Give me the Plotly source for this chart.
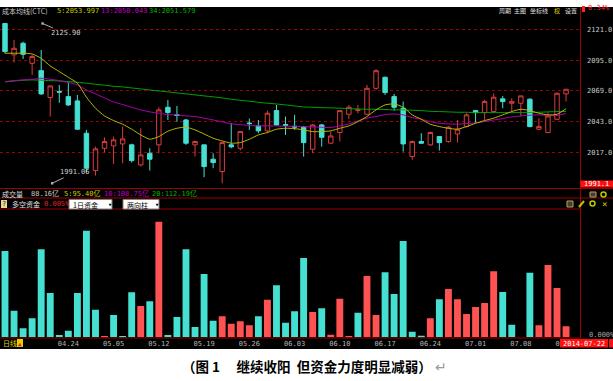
import plotly.graph_objects as go

# ---------------- data ----------------
dates = ["04.15", "04.16", "04.17", "04.18", "04.21", "04.22", "04.23", "04.24", "04.25", "04.28", "04.29", "04.30",
         "05.05", "05.06", "05.07", "05.08", "05.09", "05.12", "05.13", "05.14", "05.15", "05.16",
         "05.19", "05.20", "05.21", "05.22", "05.23", "05.26", "05.27", "05.28", "05.29", "05.30",
         "06.03", "06.04", "06.05", "06.06", "06.09", "06.10", "06.11", "06.12", "06.13", "06.16",
         "06.17", "06.18", "06.19", "06.20", "06.23", "06.24", "06.25", "06.26", "06.27", "06.30",
         "07.01", "07.02", "07.03", "07.04", "07.07", "07.08", "07.09", "07.10", "07.11", "07.14", "07.15"]

opens = [2125.9, 2099.4, 2109.2, 2092.3, 2086.1, 2063.4, 2068.5, 2064.2, 2060.6, 2033.3, 2001.8, 2020.6,
         2022.6, 2024.3, 2023.5, 2006.6, 2016.4, 2023.5, 2055.2, 2049.0, 2044.5, 2023.5, 2023.5, 2011.4,
         2001.0, 2023.5, 2020.6, 2041.9, 2039.5, 2035.3, 2052.4, 2040.6, 2039.2, 2038.4, 2019.8, 2040.3,
         2024.9, 2033.9, 2049.3, 2052.5, 2049.3, 2071.2, 2080.5, 2064.2, 2054.4, 2013.6, 2026.3, 2023.5,
         2030.5, 2026.3, 2032.7, 2038.9, 2052.4, 2050.7, 2051.6, 2062.3, 2058.6, 2058.6, 2062.0, 2036.7,
         2033.9, 2045.1, 2066.5]
highs = [2125.9, 2112.0, 2110.5, 2099.4, 2103.6, 2073.5, 2074.0, 2076.0, 2065.6, 2036.1, 2022.0, 2029.9,
         2030.5, 2038.9, 2024.5, 2037.5, 2020.6, 2055.2, 2061.4, 2056.3, 2045.4, 2027.1, 2023.5, 2016.4,
         2025.4, 2041.7, 2035.3, 2045.7, 2044.5, 2052.4, 2057.2, 2047.4, 2048.8, 2039.5, 2041.2, 2041.2,
         2034.7, 2052.4, 2057.2, 2057.2, 2074.1, 2087.3, 2081.1, 2066.5, 2060.0, 2027.1, 2033.3, 2034.7,
         2030.5, 2039.5, 2044.5, 2050.2, 2053.0, 2061.4, 2067.0, 2064.8, 2062.8, 2064.8, 2062.8, 2045.9,
         2050.7, 2067.6, 2070.4]
lows = [2100.5, 2092.9, 2096.0, 2082.5, 2065.6, 2047.4, 2059.0, 2056.3, 2036.1, 2000.1, 1997.6, 2017.0,
        2007.4, 2008.0, 2008.6, 2005.2, 2001.8, 2016.4, 2044.5, 2043.1, 2023.5, 2013.6, 1996.2, 2003.8,
        1991.06, 2020.6, 2018.7, 2036.1, 2033.3, 2033.3, 2039.5, 2031.9, 2036.1, 2013.6, 2016.4, 2022.0,
        2024.3, 2026.3, 2045.4, 2050.0, 2048.8, 2069.8, 2065.6, 2052.4, 2017.8, 2010.8, 2024.3, 2022.6,
        2018.7, 2025.4, 2025.4, 2038.4, 2041.7, 2044.5, 2050.7, 2054.4, 2051.6, 2047.4, 2038.4, 2036.1,
        2033.3, 2044.5, 2060.0]
closes = [2102.2, 2105.0, 2099.9, 2098.0, 2066.5, 2073.2, 2068.0, 2057.2, 2036.7, 2003.8, 2020.1, 2026.3,
          2027.7, 2028.5, 2010.2, 2015.0, 2011.4, 2053.0, 2050.7, 2048.3, 2024.9, 2026.3, 2005.2, 2008.6,
          2025.4, 2021.8, 2034.7, 2041.4, 2035.3, 2050.2, 2040.3, 2040.0, 2038.5, 2025.4, 2040.3, 2029.9,
          2031.0, 2052.4, 2055.2, 2053.0, 2071.2, 2086.1, 2067.6, 2055.2, 2024.3, 2026.3, 2024.9, 2033.9,
          2025.4, 2038.4, 2036.7, 2048.8, 2050.7, 2060.0, 2063.7, 2060.0, 2060.0, 2064.8, 2038.9, 2038.9,
          2047.9, 2067.0, 2070.4]

ma5 = [2100.8, 2100.8, 2100.8, 2100.2, 2096.5, 2090.1, 2085.3, 2080.5, 2075.5, 2063.7, 2054.4, 2047.9,
       2044.0, 2040.9, 2036.7, 2031.9, 2028.2, 2030.5, 2035.0, 2037.5, 2038.4, 2036.1, 2032.7, 2029.1,
       2026.8, 2024.9, 2025.4, 2028.2, 2031.9, 2033.9, 2036.7, 2037.5, 2037.2, 2036.1, 2034.7, 2034.7,
       2035.3, 2037.5, 2039.5, 2043.1, 2047.4, 2053.0, 2057.2, 2058.0, 2055.2, 2048.8, 2045.1, 2040.9,
       2038.9, 2037.5, 2036.7, 2038.9, 2041.7, 2044.0, 2046.0, 2048.8, 2051.6, 2053.5, 2052.4, 2050.2,
       2048.8, 2049.3, 2054.0]
ma13 = [2076.9, 2077.7, 2078.3, 2078.8, 2079.7, 2078.8, 2077.7, 2076.0, 2074.1, 2069.8, 2066.5, 2063.1,
        2059.7, 2057.5, 2055.2, 2053.0, 2051.3, 2050.2, 2049.0, 2048.8, 2047.9, 2047.4, 2046.0, 2044.5,
        2042.9, 2041.2, 2040.6, 2039.8, 2039.5, 2039.5, 2039.5, 2039.2, 2039.2, 2038.9, 2038.6, 2038.4,
        2038.1, 2039.5, 2041.2, 2043.7, 2046.0, 2047.4, 2049.0, 2049.6, 2048.8, 2046.5, 2045.1, 2043.1,
        2041.7, 2041.2, 2040.9, 2041.4, 2042.0, 2043.1, 2044.5, 2045.7, 2047.1, 2047.9, 2048.5, 2048.8,
        2048.2, 2048.2, 2050.0]
ma34 = [2076.6, 2077.4, 2078.0, 2078.3, 2078.0, 2077.7, 2077.4, 2076.9, 2076.3, 2075.5, 2074.6, 2073.8,
        2072.9, 2072.4, 2071.5, 2070.7, 2069.8, 2069.0, 2068.2, 2067.3, 2066.5, 2065.6, 2064.8, 2064.0,
        2063.1, 2062.0, 2061.1, 2060.3, 2059.4, 2058.6, 2058.0, 2057.2, 2056.3, 2055.5, 2055.2, 2054.9,
        2054.7, 2054.4, 2054.1, 2053.8, 2053.5, 2053.5, 2053.3, 2053.0, 2053.0, 2052.7, 2052.4, 2051.8,
        2051.6, 2051.3, 2051.0, 2051.0, 2050.7, 2050.7, 2050.7, 2050.7, 2050.7, 2050.7, 2050.7, 2051.0,
        2051.3, 2051.6, 2051.6]

# long/short fund flow (positive = red, negative = cyan), drawn as magnitudes
fund_flow = [-25.9, -8.0, -2.7, -5.7, -26.4, -13.3, -0.7, -2.0, -13.3, -32.0, -8.3, 0.4,
             -6.7, -0.4, -13.5, 9.4, -10.8, 34.7, -0.7, -6.1, -26.4, -3.1, -19.0, -5.0,
             6.3, 4.1, 4.8, 3.6, -6.3, 11.3, -15.6, -4.4, -7.8, -23.8, 7.6, -8.7,
             0.8, 11.6, 0.4, -7.4, 18.4, 6.7, -19.5, -13.0, -28.9, -1.7, -0.5, 5.7,
             -11.4, 14.5, 11.4, 7.0, 9.1, 10.3, 19.8, -13.6, -3.8, 0.0, -19.4, 3.6,
             21.7, 14.8, 3.3]

tick_labels = ["04.24", "05.05", "05.12", "05.19", "05.26", "06.03", "06.10", "06.17", "06.24", "07.01", "07.08", "07.15"]
price_ticks = [2017.0, 2043.0, 2069.0, 2095.0, 2121.0]

# ---------------- layout helpers ----------------
W, H = 613, 381
def px(x):
    return x / W
def py(y):
    return 1 - y / H

RED_UP = "#dc3c3c"
CYAN = "#46e0d2"
BAR_RED = "#ff5252"
GRID = "#9a0000"
MONO = "DejaVu Sans Mono, Noto Sans CJK SC"
CJK = "Noto Sans CJK SC"
xr = [-0.552, 63.54]

fig = go.Figure()

fig.add_trace(go.Candlestick(
    x=dates, open=opens, high=highs, low=lows, close=closes,
    increasing=dict(line=dict(color=RED_UP, width=1), fillcolor="#000000"),
    decreasing=dict(line=dict(color=CYAN, width=1), fillcolor=CYAN),
    whiskerwidth=0, xaxis="x", yaxis="y", hoverinfo="skip"))

for vals, col in [(ma34, "#00a800"), (ma13, "#b000b0"), (ma5, "#b8b800")]:
    fig.add_trace(go.Scatter(x=dates, y=vals, mode="lines", xaxis="x", yaxis="y",
                             line=dict(color=col, width=1, shape="spline", smoothing=0.6),
                             hoverinfo="skip"))

fig.add_trace(go.Bar(
    x=dates, y=[abs(v) for v in fund_flow],
    marker=dict(color=[BAR_RED if v > 0 else CYAN for v in fund_flow], line=dict(width=0)),
    width=0.76, xaxis="x2", yaxis="y2", hoverinfo="skip"))

fig.update_layout(
    width=W, height=H, margin=dict(l=0, r=0, t=0, b=0), autosize=False,
    paper_bgcolor="white", plot_bgcolor="black", showlegend=False, hovermode=False,
    xaxis=dict(domain=[0, px(580)], range=xr, type="category", showticklabels=False,
               showgrid=False, zeroline=False, showline=False, anchor="y",
               rangeslider=dict(visible=False), fixedrange=True),
    yaxis=dict(domain=[py(188), py(7)], range=[1987.1, 2139.8], side="right", anchor="x",
               tickvals=price_ticks, ticktext=[f"{v:.1f}" for v in price_ticks],
               tickfont=dict(family=MONO, size=7, color="#c8c8c8"), ticklabelstandoff=6,
               showgrid=True, gridcolor=GRID, griddash="dot", gridwidth=1,
               zeroline=False, showline=False, fixedrange=True),
    xaxis2=dict(domain=[0, px(580)], range=xr, type="category", anchor="y2",
                tickvals=tick_labels, ticktext=tick_labels, ticks="",
                tickfont=dict(family=MONO, size=7, color="#b4b4b4"), ticklabelstandoff=1,
                showgrid=False, zeroline=False, showline=False, fixedrange=True),
    yaxis2=dict(domain=[py(337.3), py(210)], range=[0, 38.2], anchor="x2",
                visible=False, fixedrange=True),
)

shapes = []
shapes.append(dict(type="rect", xref="paper", yref="paper", x0=0, x1=1, y0=py(349), y1=py(7),
                   fillcolor="black", line=dict(width=0), layer="below"))
def hline(y, x0, x1, col=GRID):
    shapes.append(dict(type="line", xref="paper", yref="paper", x0=px(x0), x1=px(x1),
                       y0=py(y), y1=py(y), line=dict(color=col, width=1)))
def rect(x0, y0, x1, y1, fill, line="rgba(0,0,0,0)", lw=0):
    shapes.append(dict(type="rect", xref="paper", yref="paper", x0=px(x0), x1=px(x1),
                       y0=py(y1), y1=py(y0), fillcolor=fill, line=dict(color=line, width=lw)))

shapes.append(dict(type="line", xref="paper", yref="paper", x0=px(580.5), x1=px(580.5),
                   y0=py(338), y1=py(7), line=dict(color=GRID, width=1)))
hline(188.5, 0, 613)
hline(198, 0, 613)
hline(209, 0, 580.5)
hline(338, 0, 580.5)

# small widgets
rect(1, 200, 7, 208, "#e8d890")                 # help icon
rect(69, 199.5, 112, 209, "white", "#808080", 1)  # dropdown 1
rect(123, 199.5, 159, 209, "white", "#808080", 1) # dropdown 2
rect(17, 339, 23, 347, "#e0d000")               # triangle icon box
rect(560, 339, 608, 347.5, "#ff1010")            # date box
rect(609, 339, 613, 347.5, "#ff1010")
rect(580.5, 180.5, 613, 187.5, "#ff1010")        # last price box
rect(582, 6, 585, 12, "#ff2020")
# right icons
rect(590, 192, 596, 197, "#404040", "#c0a040", 1)
rect(567, 201, 573, 207, "#404040", "#c0a040", 1)
shapes.append(dict(type="line", xref="paper", yref="paper", x0=px(579), x1=px(584),
                   y0=py(207), y1=py(201), line=dict(color="#c8c000", width=2)))
for cx, cy in [(604, 194.5), (593, 203.5)]:
    shapes.append(dict(type="circle", xref="paper", yref="paper", x0=px(cx - 3), x1=px(cx + 2),
                       y0=py(cy + 2.5), y1=py(cy - 2.5), line=dict(color="#b8c800", width=1.5)))
fig.update_layout(shapes=shapes)

ann = []
def txt(x, y, s, color, size=7, family=MONO, xanchor="left"):
    ann.append(dict(x=px(x), y=py(y), xref="paper", yref="paper", text=s, showarrow=False,
                    xanchor=xanchor, yanchor="middle",
                    font=dict(family=family, size=size, color=color)))

# header
txt(0, 11, "成本均线(CTC)", "#c8c8c8", 7, CJK)
txt(55, 11, "5:2053.997", "#c8c800")
txt(99, 11, "13:2050.043", "#c000c0")
txt(147, 11, "34:2051.579", "#00b400")
txt(497, 11, "周期", "#e0e0e0", 6, CJK)
txt(512, 11, "主图", "#e0e0e0", 6, CJK)
txt(528, 11, "坐标线", "#e0e0e0", 6, CJK)
txt(552, 11, "权", "#e0d000", 6, CJK)
txt(563, 11, "设置", "#e0e0e0", 6, CJK)
txt(586, 8, "0.34%", "#ff2020")
txt(596.5, 184, "1991.1", "white", 7, MONO, "center")

# volume strip
txt(0, 193.5, "成交量", "#e0e0e0", 7, CJK)
txt(29, 193.5, "88.16亿", "#c8c8c8")
txt(62, 193.5, "5:95.40亿", "#c8c800")
txt(102, 193.5, "10:108.75亿", "#c000c0")
txt(150, 193.5, "20:112.19亿", "#00b400")

# fund strip
txt(4, 204, "?", "#202020", 7, MONO, "center")
txt(10, 204, "多空资金", "#e0e0e0", 7, CJK)
txt(42, 204, "0.005%", "#e02020")
txt(71, 204.5, "1日资金", "#000000", 7, CJK)
txt(106, 204.5, "▾", "#000000", 7, MONO)
txt(125, 204.5, "两向柱", "#000000", 7, CJK)
txt(153, 204.5, "▾", "#000000", 7, MONO)
txt(604, 204, "×", "#d8d000", 9, MONO, "center")

# bottom strip
txt(1, 343, "日线", "#e0d000", 7, CJK)
txt(20, 343, "▲", "#e02020", 6, MONO, "center")
txt(587, 334.5, "0.000%", "#a0a0a0")
txt(584, 343.5, "2014-07-22", "white", 7, MONO, "center")

# caption
ann.append(dict(x=px(180), y=py(366), xref="paper", yref="paper", showarrow=False,
                xanchor="left", yanchor="middle",
                text="<b>（图 1　 继续收阳  但资金力度明显减弱）</b><span style='color:#9a9a9a'> ↵</span>",
                font=dict(family=CJK, size=13.5, color="black")))

# high / low markers
ann.append(dict(x="04.15", y=2125.9, xref="x", yref="y", text="2125.90", showarrow=True,
                ax=23, ay=10, arrowcolor="#b0b0b0", arrowwidth=1, arrowhead=7, arrowsize=0.6,
                font=dict(family=MONO, size=7, color="#d0d0d0")))
ann.append(dict(x="05.21", y=1991.06, xref="x", yref="y", text="1991.06", showarrow=True,
                ax=23, ay=-11, arrowcolor="#b0b0b0", arrowwidth=1, arrowhead=7, arrowsize=0.6,
                font=dict(family=MONO, size=7, color="#d0d0d0")))

fig.update_layout(annotations=ann)

fig.write_html("out.html", config={"displayModeBar": False},
               post_script="document.body.style.margin='0px';document.body.style.padding='0px';")
